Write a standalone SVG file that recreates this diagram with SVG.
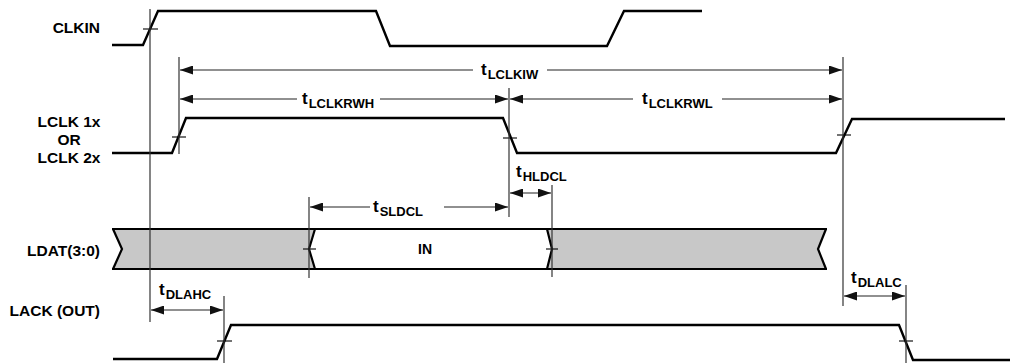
<svg xmlns="http://www.w3.org/2000/svg" width="1018" height="364" viewBox="0 0 1018 364">
<style>
.wave{fill:none;stroke:#000;stroke-width:2.4;stroke-linejoin:miter}
.ref{stroke:#333;stroke-width:1.2;fill:none}
.tick{stroke:#000;stroke-width:1.1;fill:none}
.dim{stroke:#222;stroke-width:1.1;fill:none}
.lbl{font-family:"Liberation Sans",Arial,sans-serif;font-weight:bold;font-size:15.5px;fill:#000}
.tl{font-family:"Liberation Sans",Arial,sans-serif;font-weight:bold;font-size:17px;fill:#000}
.sub{font-size:13px}
.bus{stroke:#000;stroke-width:2.2}
</style>
<defs>
<marker id="ah" markerUnits="userSpaceOnUse" markerWidth="14" markerHeight="9" refX="13" refY="4.5" orient="auto-start-reverse" viewBox="0 0 13 9">
<path d="M0,0 L13,4.5 L0,9 z" fill="#111"/>
</marker>
</defs>
<rect width="1018" height="364" fill="#fff"/>

<g id="labels">
<text class="lbl" x="100" y="33" text-anchor="end">CLKIN</text>
<text class="lbl" x="69" y="127" text-anchor="middle">LCLK 1x</text>
<text class="lbl" x="69" y="145" text-anchor="middle">OR</text>
<text class="lbl" x="69" y="163" text-anchor="middle">LCLK 2x</text>
<text class="lbl" x="100" y="256" text-anchor="end">LDAT(3:0)</text>
<text class="lbl" x="100" y="316" text-anchor="end">LACK (OUT)</text>
</g>

<g id="clkin">
<polyline class="wave" points="112,45 143,45 158,11 376,11 390,46 607,46 624,11 702,11"/>
<line class="tick" x1="143" y1="29" x2="158" y2="29"/>
</g>

<g id="lclk">
<polyline class="wave" points="112,153 172,153 186,118 503,118 517,153 836,153 852,119 1005,119"/>
<line class="tick" x1="172" y1="137" x2="186" y2="137"/>
<line class="tick" x1="503" y1="138" x2="517" y2="138"/>
<line class="tick" x1="837" y1="135" x2="851" y2="135"/>
</g>

<g id="ldat">
<polygon points="113,229 315,229 309,249 315,269 113,269 122,249" fill="#c8c8c8"/>
<polygon points="315,229 547,229 552,249 547,269 315,269 309,249" fill="#fff"/>
<polygon points="547,229 826,229 818,249 826,269 547,269 552,249" fill="#c8c8c8"/>
<line class="bus" x1="112" y1="229" x2="827" y2="229"/>
<line class="bus" x1="112" y1="269" x2="827" y2="269"/>
<polyline class="bus" fill="none" points="113,229 122,249 113,269"/>
<polyline class="bus" fill="none" points="826,229 818,249 826,269"/>
<polyline class="bus" fill="none" points="315,229 309,249 315,269"/>
<polyline class="bus" fill="none" points="547,229 552,249 547,269"/>
<line class="tick" x1="303" y1="249" x2="316" y2="249"/>
<line class="tick" x1="546" y1="249" x2="558" y2="249"/>
<text class="lbl" x="425" y="254" text-anchor="middle" style="font-size:14px">IN</text>
</g>

<g id="lack">
<polyline class="wave" points="113,359 217,359 231,325 899,325 913,360 1010,360"/>
<line class="tick" x1="217" y1="341" x2="232" y2="341"/>
<line class="tick" x1="899" y1="341" x2="913" y2="341"/>
</g>

<g id="connectors">
<line class="ref" x1="150" y1="9" x2="150" y2="322"/>
<line class="ref" x1="179" y1="57" x2="179" y2="154"/>
<line class="ref" x1="509" y1="88" x2="509" y2="217"/>
<line class="ref" x1="843" y1="57" x2="843" y2="306"/>
<line class="ref" x1="309" y1="197" x2="309" y2="278"/>
<line class="ref" x1="552" y1="185" x2="552" y2="277"/>
<line class="ref" x1="224" y1="296" x2="224" y2="363"/>
<line class="ref" x1="906" y1="285" x2="906" y2="363"/>

<line class="dim" x1="473" y1="70" x2="180" y2="70" marker-end="url(#ah)"/>
<line class="dim" x1="547" y1="70" x2="842" y2="70" marker-end="url(#ah)"/>
<line class="dim" x1="297" y1="99" x2="180" y2="99" marker-end="url(#ah)"/>
<line class="dim" x1="380" y1="99" x2="508" y2="99" marker-end="url(#ah)"/>
<line class="dim" x1="633" y1="99" x2="510" y2="99" marker-end="url(#ah)"/>
<line class="dim" x1="722" y1="99" x2="842" y2="99" marker-end="url(#ah)"/>
<line class="dim" x1="370" y1="207" x2="310" y2="207" marker-end="url(#ah)"/>
<line class="dim" x1="444" y1="207" x2="508" y2="207" marker-end="url(#ah)"/>
<line class="dim" x1="510" y1="193" x2="551" y2="193" marker-start="url(#ah)" marker-end="url(#ah)"/>
<line class="dim" x1="151" y1="310" x2="223" y2="310" marker-start="url(#ah)" marker-end="url(#ah)"/>
<line class="dim" x1="844" y1="296" x2="905" y2="296" marker-start="url(#ah)" marker-end="url(#ah)"/>

<text class="tl" x="481" y="75">t<tspan class="sub" dx="1" dy="4">LCLKIW</tspan></text>
<text class="tl" x="302" y="104">t<tspan class="sub" dx="1" dy="4">LCLKRWH</tspan></text>
<text class="tl" x="642" y="104">t<tspan class="sub" dx="1" dy="4">LCLKRWL</tspan></text>
<text class="tl" x="373" y="212">t<tspan class="sub" dx="1" dy="4">SLDCL</tspan></text>
<text class="tl" x="516" y="177">t<tspan class="sub" dx="1" dy="4">HLDCL</tspan></text>
<text class="tl" x="159" y="295">t<tspan class="sub" dx="1" dy="4">DLAHC</tspan></text>
<text class="tl" x="851" y="283">t<tspan class="sub" dx="1" dy="4">DLALC</tspan></text>
</g>
</svg>
